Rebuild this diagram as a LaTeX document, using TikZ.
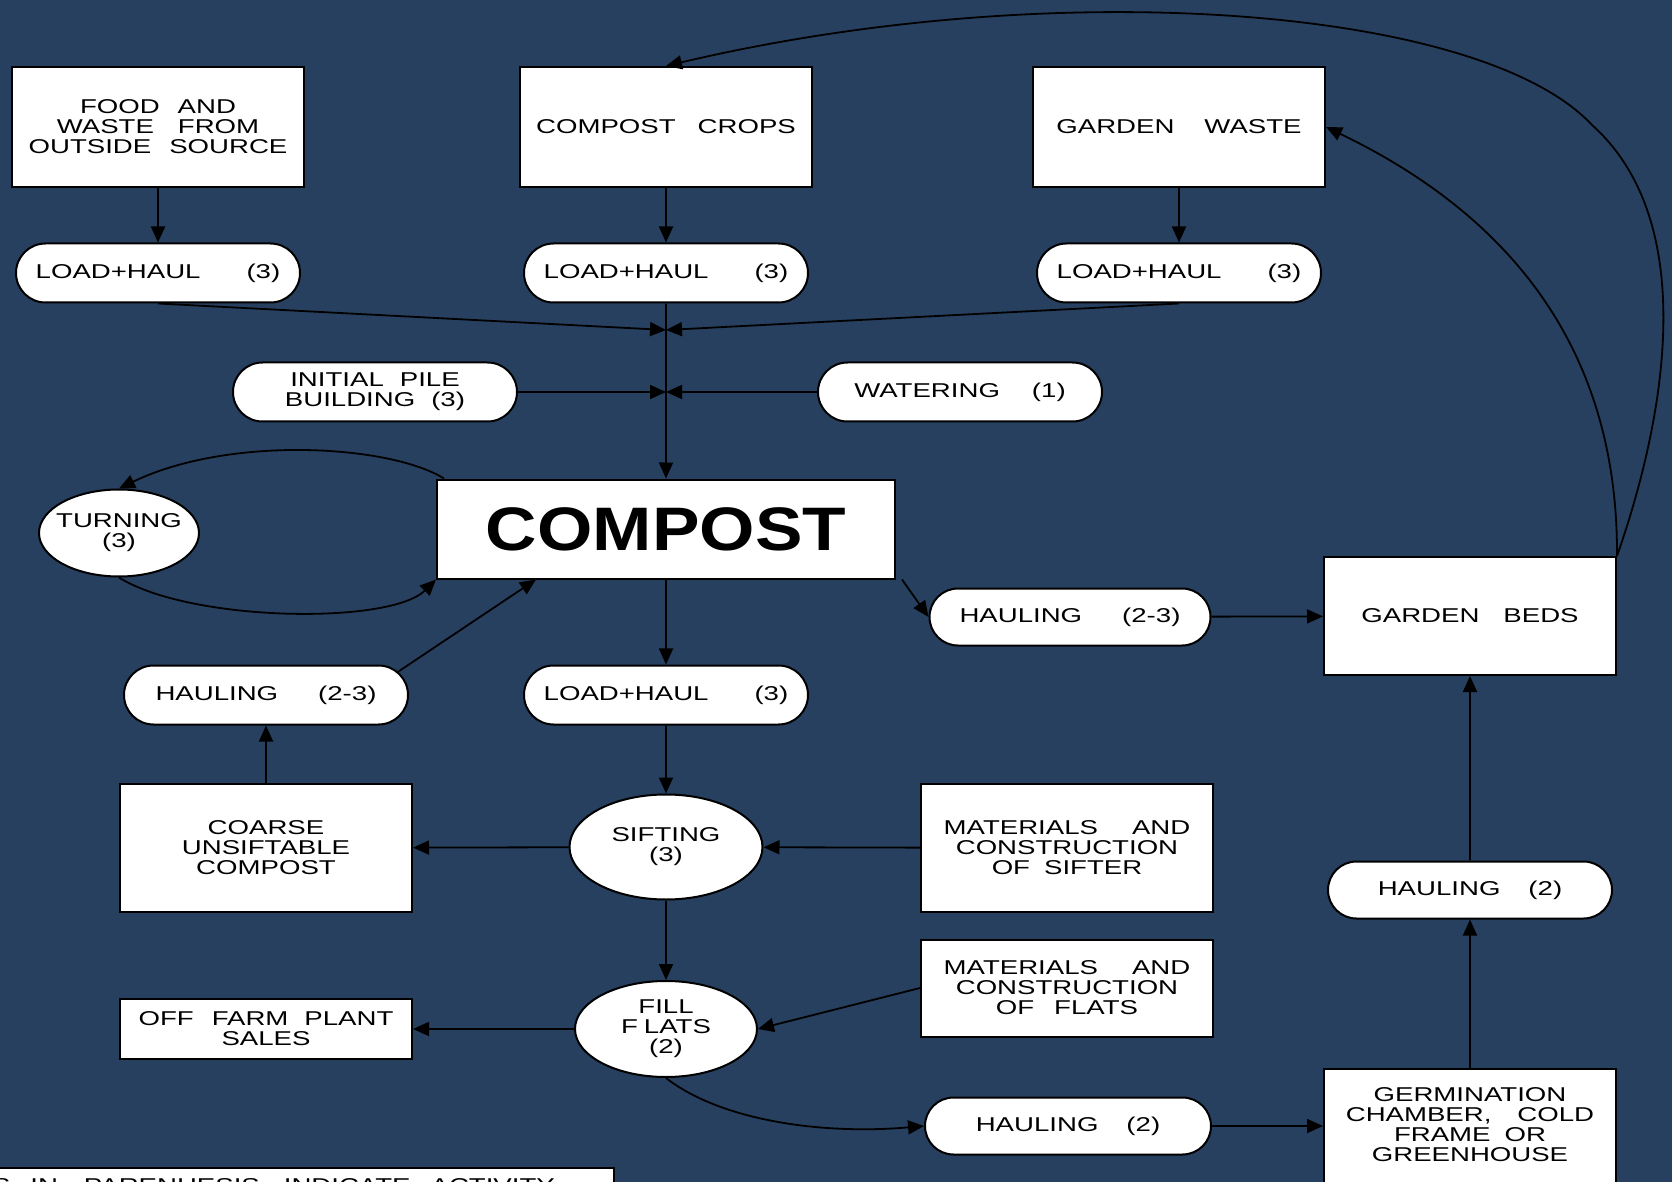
\documentclass[tikz,border=0pt]{standalone}
\usepackage{fontspec}
\setmainfont{Liberation Sans}[FakeStretch=1.38]
\newfontfamily\titlefont{Liberation Sans}[FakeStretch=1.16]
\usepackage{tikz}
\usetikzlibrary{arrows.meta, shapes.geometric, shapes.misc}
\definecolor{slate}{RGB}{39,64,95}

\begin{document}
\begin{tikzpicture}[
    x=0.5pt, y=-0.5pt,
    >={Triangle[length=8pt,width=7pt]},
    font=\fontsize{10}{10}\selectfont,
    box/.style={
        rectangle,
        draw,
        fill=white,
        line width=1pt,
        minimum width=146pt,
        minimum height=60pt,
        inner sep=1pt,
        align=center
    },
    pill/.style={
        rounded rectangle,
        draw,
        fill=white,
        line width=1pt,
        minimum width=144pt,
        minimum height=29.5pt,
        inner sep=1pt,
        align=center
    },
    oval/.style={
        ellipse,
        draw,
        fill=white,
        line width=1pt,
        inner sep=0pt,
        align=center
    },
    flow/.style={->, line width=0.9pt}
]

\useasboundingbox (0,0) rectangle (1672,1182);
\clip (0,0) rectangle (1672,1182);
\fill[slate] (0,0) rectangle (1672,1182);

% sources
\node[box] (food) at (158,127) {FOOD\hspace{9pt}AND\\WASTE\hspace{12pt}FROM\\OUTSIDE\hspace{9pt}SOURCE};
\node[box] (crops) at (666,127) {COMPOST\hspace{11pt}CROPS};
\node[box] (gwaste) at (1179,127) {GARDEN\hspace{15pt}WASTE};

\node[pill] (load1) at (158,273) {LOAD+HAUL\hspace{23pt}(3)};
\node[pill] (load2) at (666,273) {LOAD+HAUL\hspace{23pt}(3)};
\node[pill] (load3) at (1179,273) {LOAD+HAUL\hspace{23pt}(3)};

\coordinate (m1) at (666,330);
\coordinate (m2) at (666,392);

\node[pill] (pile) at (375,392) {INITIAL\hspace{8pt}PILE\\BUILDING\hspace{8pt}(3)};
\node[pill] (water) at (960,392) {WATERING\hspace{16pt}(1)};

% compost pile
\node[box, minimum width=229pt, minimum height=49.5pt,
    font=\titlefont\bfseries\fontsize{30.7}{32}\selectfont] (compost) at (666,529) {COMPOST};
\node[oval, minimum width=80pt, minimum height=43.5pt, inner xsep=-4pt] (turn) at (119,533) {TURNING\\(3)};

\node[pill] (haulL) at (266,695) {HAULING\hspace{20pt}(2-3)};
\node[pill] (loadM) at (666,695) {LOAD+HAUL\hspace{23pt}(3)};
\node[pill, minimum width=142.5pt, minimum height=28.5pt] (haulR) at (1070,617) {HAULING\hspace{20pt}(2-3)};
\node[box, minimum height=59pt] (beds) at (1470,616) {GARDEN\hspace{12pt}BEDS};

% sifting and flats
\node[box, minimum height=64pt] (coarse) at (266,848) {COARSE\\UNSIFTABLE\\COMPOST};
\node[oval, minimum width=96.5pt, minimum height=52.5pt] (sift) at (666,847) {SIFTING\\(3)};
\node[box, minimum height=64pt] (matsift) at (1067,848) {MATERIALS\hspace{17pt}AND\\CONSTRUCTION\\OF\hspace{7pt}SIFTER};

\node[oval, minimum width=91pt, minimum height=48pt] (fill) at (666,1029) {FILL\\F\hspace{3pt}LATS\\(2)};
\node[box, minimum height=48.5pt] (matflat) at (1067,988) {MATERIALS\hspace{17pt}AND\\CONSTRUCTION\\OF\hspace{10pt}FLATS};
\node[box, minimum height=30pt] (offfarm) at (266,1029) {OFF\hspace{9pt}FARM\hspace{8pt}PLANT\\SALES};

\node[pill, minimum width=145pt, minimum height=28.5pt] (haulB) at (1068,1126) {HAULING\hspace{14pt}(2)};
\node[box, anchor=north, minimum height=62pt, text depth=6pt] (germ) at (1470,1068) {GERMINATION\\CHAMBER,\hspace{13pt}COLD\\FRAME\hspace{7pt}OR\\GREENHOUSE};
\node[pill, minimum height=28.5pt] (haulG) at (1470,890) {HAULING\hspace{14pt}(2)};

\node[draw, fill=white, line width=1pt, anchor=north west, text width=301pt,
    inner xsep=10pt, inner ysep=5.5pt, align=left] (legend) at (-29,1167)
    {S\hspace{10pt}IN\hspace{13pt}PARENHESIS\hspace{12pt}INDICATE\hspace{10pt}ACTIVITY};

% connectors
\draw[flow] (food) -- (load1);
\draw[flow] (crops) -- (load2);
\draw[flow] (gwaste) -- (load3);
\draw[flow] (load1.south) -- (m1);
\draw[flow] (load3.south) -- (m1);
\draw[flow] (load2) -- (compost);
\draw[flow] (pile) -- (m2);
\draw[flow] (water) -- (m2);

\draw[flow] ([xshift=4pt]compost.north west) .. controls (390,445) and (230,435) .. (turn.north);
\draw[flow] (turn.south) .. controls (190,622) and (390,625) .. (compost.south west);
\draw[flow] (haulL.10) -- ([xshift=50pt]compost.south west);
\draw[flow] ([xshift=3pt]compost.south east) -- (haulR.west);
\draw[flow] (haulR) -- (beds);

\draw[flow] (compost) -- (loadM);
\draw[flow] (loadM) -- (sift);
\draw[flow] (sift) -- (coarse);
\draw[flow] (matsift) -- (sift);
\draw[flow] (coarse) -- (haulL);
\draw[flow] (sift) -- (fill);
\draw[flow] (fill) -- (offfarm);
\draw[flow] (matflat.west) -- (fill.east);
\draw[flow] (fill.south) .. controls (720,1120) and (820,1135) .. (haulB.west);
\draw[flow] (haulB.east) -- (haulB.east -| germ.west);
\draw[flow] (germ) -- (haulG);
\draw[flow] (haulG) -- (beds);

% back to the sources
\draw[flow] (beds.north east) .. controls (1668,410) and (1698,220) .. (1592,125)
    .. controls (1480,5) and (1050,-25) .. (crops.north);
\draw[flow] (beds.north east) .. controls (1618,380) and (1540,230) .. (gwaste.east);

\end{tikzpicture}
\end{document}
